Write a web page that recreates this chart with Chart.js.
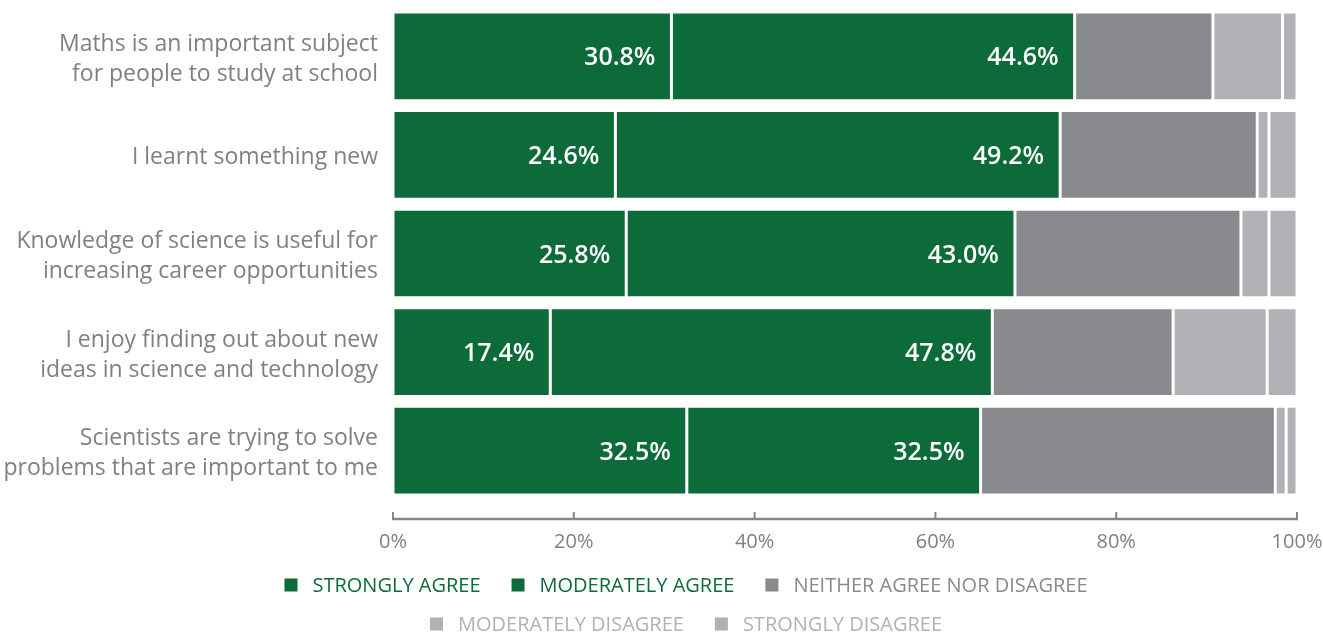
<!DOCTYPE html>
<html><head><meta charset="utf-8">
<script src="https://cdn.jsdelivr.net/npm/chart.js@4.4.0/dist/chart.umd.min.js"></script>
<style>html,body{margin:0;padding:0;background:#fff;} #wrap{width:1323px;height:632px;position:relative;}</style>
</head><body><div id="wrap"><canvas id="c"></canvas></div>
<script>
const categories = [
  ["Maths is an important subject", "for people to study at school"],
  "I learnt something new",
  ["Knowledge of science is useful for", "increasing career opportunities"],
  ["I enjoy finding out about new", "ideas in science and technology"],
  ["Scientists are trying to solve", "problems that are important to me"]
];
const seriesNames = ["STRONGLY AGREE", "MODERATELY AGREE", "NEITHER AGREE NOR DISAGREE", "MODERATELY DISAGREE", "STRONGLY DISAGREE"];
// bar lengths as drawn in the picture
const stronglyAgree      = [30.8, 24.6, 25.8, 17.4, 32.5];
const moderatelyAgree    = [44.6, 49.2, 43.0, 48.9, 32.5];
const neitherAgree       = [15.3, 21.8, 25.0, 20.0, 32.6];
const moderatelyDisagree = [7.7, 1.3, 3.1, 10.4, 1.2];
const stronglyDisagree   = [1.6, 3.1, 3.1, 3.3, 1.2];
// value labels as printed on the bars
const stronglyAgreeLabels   = ["30.8%", "24.6%", "25.8%", "17.4%", "32.5%"];
const moderatelyAgreeLabels = ["44.6%", "49.2%", "43.0%", "47.8%", "32.5%"];
const xTickValues = [0, 20, 40, 60, 80, 100];

const GREEN = '#0c6b38', MID = '#898a8d', LIGHT = '#b1b2b5';
const seriesColors = [GREEN, GREEN, MID, LIGHT, LIGHT];
const seriesValues = [stronglyAgree, moderatelyAgree, neitherAgree, moderatelyDisagree, stronglyDisagree];
const seriesLabels = [stronglyAgreeLabels, moderatelyAgreeLabels];
const FONT = "'Open Sans', 'Noto Sans', sans-serif";

const decor = {
  id: 'decor',
  afterDatasetsDraw(chart) {
    const ctx = chart.ctx;
    ctx.save();
    ctx.fillStyle = '#ffffff';
    ctx.font = "600 25px " + FONT;
    ctx.textAlign = 'right';
    ctx.textBaseline = 'middle';
    seriesLabels.forEach((labels, di) => {
      const meta = chart.getDatasetMeta(di);
      meta.data.forEach((bar, i) => {
        ctx.fillText(labels[i], bar.x - 16, bar.y + 2);
      });
    });
    ctx.restore();
  },
  afterDraw(chart) {
    const ctx = chart.ctx;
    const xs = chart.scales.x;
    const area = chart.chartArea;
    const y = area.bottom + 19;
    ctx.save();
    ctx.strokeStyle = '#85868a';
    ctx.lineWidth = 2.5;
    ctx.beginPath();
    ctx.moveTo(xs.getPixelForValue(xTickValues[0]) - 1, y);
    ctx.lineTo(xs.getPixelForValue(xTickValues[xTickValues.length - 1]) + 1, y);
    ctx.stroke();
    ctx.lineWidth = 2;
    xTickValues.forEach(v => {
      const px = xs.getPixelForValue(v);
      ctx.beginPath();
      ctx.moveTo(px, y);
      ctx.lineTo(px, y - 7);
      ctx.stroke();
    });
    // legend
    const rows = [[0, 1, 2], [3, 4]];
    const rowY = [585, 624];
    const centerX = 686;
    const box = 13, boxGap = 15, itemGap = 31;
    ctx.font = "20px " + FONT;
    ctx.textBaseline = 'middle';
    ctx.textAlign = 'left';
    rows.forEach((row, r) => {
      const widths = row.map(i => box + boxGap + ctx.measureText(chart.data.datasets[i].label).width);
      const total = widths.reduce((a, b) => a + b, 0) + itemGap * (row.length - 1);
      let x = centerX - total / 2;
      row.forEach((i, k) => {
        const ds = chart.data.datasets[i];
        ctx.fillStyle = ds.backgroundColor;
        ctx.fillRect(x, rowY[r] - box / 2, box, box);
        ctx.fillText(ds.label, x + box + boxGap, rowY[r] + 1);
        x += widths[k] + itemGap;
      });
    });
    ctx.restore();
  }
};

new Chart(document.getElementById('c'), {
  type: 'bar',
  data: {
    labels: categories,
    datasets: seriesNames.map((name, i) => ({
      label: name,
      data: seriesValues[i],
      backgroundColor: seriesColors[i],
      borderColor: '#ffffff',
      borderWidth: 1.5,
      borderSkipped: false,
      barPercentage: 0.9,
      categoryPercentage: 1.0
    }))
  },
  options: {
    indexAxis: 'y',
    responsive: true,
    maintainAspectRatio: false,
    animation: false,
    layout: { padding: { top: 7, right: 26, bottom: 80, left: 0 } },
    plugins: { legend: { display: false }, tooltip: { enabled: false } },
    scales: {
      x: {
        stacked: true, min: 0, max: 100,
        afterBuildTicks(scale) { scale.ticks = xTickValues.map(v => ({ value: v })); },
        afterFit(scale) { scale.paddingLeft = 0; scale.paddingRight = 0; scale.paddingTop = 0; scale.paddingBottom = 0; scale.height = 52; },
        grid: { display: false, drawTicks: false },
        border: { display: false },
        ticks: {
          padding: 30, color: '#808080',
          font: { family: FONT, size: 20 },
          callback: v => v + '%'
        }
      },
      y: {
        stacked: true,
        afterFit(scale) { scale.width = 393; scale.paddingTop = 0; scale.paddingBottom = 0; scale.paddingLeft = 0; scale.paddingRight = 0; },
        grid: { display: false, drawTicks: false },
        border: { display: false },
        ticks: {
          padding: 15, color: '#808080', labelOffset: 3,
          font: { family: FONT, size: 23, lineHeight: 1.3 }
        }
      }
    }
  },
  plugins: [decor]
});
</script>
</body></html>
